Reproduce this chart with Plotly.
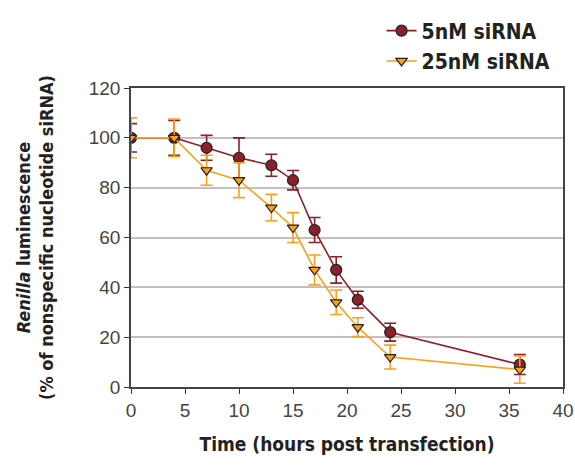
import plotly.graph_objects as go

hours = [0, 4, 7, 10, 13, 15, 17, 19, 21, 24, 36]
lum_5nM = [100, 100, 96, 92, 89, 83, 63, 47, 35, 22, 9]
err_5nM = [5.7, 7, 5, 8, 4.4, 3.9, 5, 5.3, 3.4, 3.6, 4]
lum_25nM = [100, 100, 87, 83, 72, 64, 47, 34, 24, 12, 7]
err_25nM = [8, 7.5, 6, 7, 5.3, 6, 6, 4.9, 3.8, 4.8, 5.5]
x_ticks = [0, 5, 10, 15, 20, 25, 30, 35, 40]
y_ticks = [0, 20, 40, 60, 80, 100, 120]

RED = "#8c1f2c"
ORANGE = "#f9a11b"
COND = "DejaVu Sans Condensed, Roboto, sans-serif"

fig = go.Figure()
fig.add_trace(go.Scatter(
    x=hours, y=lum_5nM, name="<b>5nM siRNA</b>", mode="lines+markers",
    line=dict(color=RED, width=1.6),
    marker=dict(symbol="circle", size=11, color=RED, line=dict(color="#222", width=1.2)),
    error_y=dict(type="data", array=err_5nM, color=RED, thickness=1.6, width=6),
))
fig.add_trace(go.Scatter(
    x=hours, y=lum_25nM, name="<b>25nM siRNA</b>", mode="lines+markers",
    line=dict(color=ORANGE, width=1.6),
    marker=dict(symbol="triangle-down", size=10, color=ORANGE, line=dict(color="#222", width=1.2)),
    error_y=dict(type="data", array=err_25nM, color=ORANGE, thickness=1.6, width=6),
))

fig.update_layout(
    width=575, height=467,
    margin=dict(l=131, r=12, t=87, b=80),
    paper_bgcolor="white", plot_bgcolor="white",
    font=dict(family="Liberation Sans", color="#333"),
    legend=dict(x=0.58, y=1.255, xanchor="left", yanchor="top",
                font=dict(family=COND, size=21, color="#222"),
                bgcolor="rgba(0,0,0,0)", tracegroupgap=0, itemwidth=30),
    xaxis=dict(range=[0, 40], tickvals=x_ticks, ticks="outside", ticklen=5,
               tickcolor="#333", showline=True, linecolor="#444", linewidth=1.5,
               mirror=True, showgrid=False, zeroline=False, automargin=False,
               tickfont=dict(size=19, color="#444"),
               title=dict(text="<b>Time (hours post transfection)</b>",
                          font=dict(family=COND, size=19, color="#222"), standoff=18)),
    yaxis=dict(range=[0, 120], tickvals=y_ticks, ticks="outside", ticklen=5,
               tickcolor="#333", showline=True, linecolor="#444", linewidth=1.5,
               mirror=True, showgrid=True, gridcolor="#c9bdbe", gridwidth=1.5,
               zeroline=False, automargin=False, tickfont=dict(size=19, color="#444"),
               title=dict(text="<b><i>Renilla</i> luminescence<br>(% of nonspecific nucleotide siRNA)</b>",
                          font=dict(family=COND, size=18, color="#222"), standoff=30)),
)

fig.write_html("out.html")
